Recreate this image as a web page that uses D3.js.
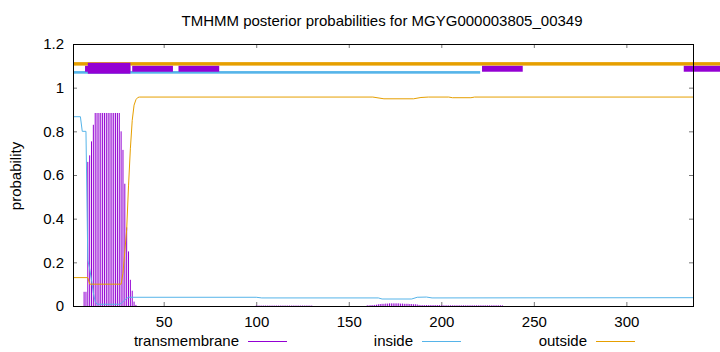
<!DOCTYPE html>
<html>
<head>
<meta charset="utf-8">
<script src="https://cdn.jsdelivr.net/npm/d3@7"></script>
<style>
    body { margin: 0; background: #fff; }
    svg { display: block; font-family: "Liberation Sans", Arial, sans-serif; }
</style>
</head>
<body>
<div id="chart"></div>
<script>

// Sequence length and axis ticks
var seqLength = 336;
var xTicks = [50, 100, 150, 200, 250, 300];
var yTicks = [0, 0.2, 0.4, 0.6, 0.8, 1, 1.2];
var yTickLabels = ["0", "0.2", "0.4", "0.6", "0.8", "1", "1.2"];

// Transmembrane posterior, one impulse per residue [residue, probability]
var tmMain = [
    [7, 0.065], [8, 0.065], [9, 0.66], [10, 0.69], [11, 0.754], [12, 0.83],
    [13, 0.884], [14, 0.884], [15, 0.884], [16, 0.884], [17, 0.884], [18, 0.884],
    [19, 0.884], [20, 0.884], [21, 0.884], [22, 0.884], [23, 0.884], [24, 0.884],
    [25, 0.884], [26, 0.884], [27, 0.80], [28, 0.715], [29, 0.56], [30, 0.36],
    [31, 0.25], [32, 0.12], [33, 0.07], [34, 0.02], [35, 0.005]
];

// Faint transmembrane values further down the sequence
var tmFaintStartA = 100;
var tmFaintA = [0.002, 0.002, 0.002, 0.002, 0.002, 0.002, 0.002, 0.002, 0.002, 0.002,
    0.002, 0.002, 0.002, 0.002, 0.002, 0.002, 0.002, 0.002, 0.002, 0.002,
    0.002, 0.002, 0.002, 0.002, 0.002, 0.002, 0.002, 0.002, 0.002, 0.002, 0.002];
var tmFaintStartB = 160;
var tmFaintB = [0.003, 0.003, 0.004, 0.004, 0.005, 0.006,
    0.008, 0.009, 0.010, 0.010, 0.011, 0.011, 0.012, 0.012, 0.012, 0.012, 0.012,
    0.012, 0.011, 0.011, 0.010, 0.010, 0.010, 0.009, 0.009, 0.008, 0.008, 0.007,
    0.005, 0.004, 0.004, 0.004, 0.004, 0.004, 0.004, 0.004, 0.004, 0.004, 0.004, 0.004,
    0.003, 0.003, 0.003, 0.003, 0.003, 0.003, 0.003, 0.003, 0.003, 0.003,
    0.003, 0.003, 0.003, 0.003, 0.003, 0.003, 0.003, 0.003, 0.003, 0.003,
    0.003, 0.003, 0.003, 0.003, 0.003, 0.003, 0.003, 0.003, 0.003, 0.003,
    0.003, 0.003, 0.003, 0.003];

// Inside posterior, read at the breakpoints of the curve [residue, probability]
var insideProb = [
    [1, 0.867], [5, 0.867], [6, 0.80], [8, 0.80], [9, 0.21], [10, 0.17],
    [11, 0.12], [12, 0.06], [13, 0.02], [14, 0.008], [26, 0.008], [27, 0.012],
    [28, 0.02], [29, 0.028], [30, 0.035], [31, 0.04], [100, 0.04], [103, 0.037],
    [166, 0.037], [168, 0.032], [184, 0.032], [187, 0.04], [192, 0.041],
    [195, 0.037], [336, 0.038]
];

// Outside posterior [residue, probability]
var outsideProb = [
    [1, 0.13], [9, 0.13], [10, 0.10], [27, 0.10], [28, 0.15], [29, 0.25],
    [30, 0.35], [31, 0.55], [32, 0.72], [33, 0.85], [34, 0.92], [35, 0.945],
    [36, 0.955], [37, 0.957], [163, 0.957], [169, 0.949], [185, 0.949],
    [189, 0.955], [193, 0.957], [204, 0.957], [206, 0.954], [216, 0.954],
    [218, 0.957], [336, 0.957]
];

// Predicted topology strip at the top [from, to]
var topoOutside = [[1, 360]];
var topoInside = [[1, 221]];
var topoTm = [[7.5, 32], [33, 55], [58, 80], [222, 244], [331, 360]];
var topoTmWide = [[9, 32]];

var legendItems = [
    {name: "transmembrane", color: "#9400d3"},
    {name: "inside", color: "#56b4e9"},
    {name: "outside", color: "#e69f00"}
];

var colTm = "#9400d3", colIn = "#56b4e9", colOut = "#e69f00";

// Layout
var width = 720, height = 352;
var plot = {left: 73, right: 693, top: 44, bottom: 306};

var svg = d3.select("#chart").append("svg")
    .attr("width", width)
    .attr("height", height);

svg.append("rect")
    .attr("width", width)
    .attr("height", height)
    .attr("fill", "#fff");

// Scales
var x = d3.scaleLinear()
    .domain([1, seqLength])
    .range([plot.left, plot.right]);

var y = d3.scaleLinear()
    .domain([0, 1.2])
    .range([plot.bottom, plot.top]);

// Title
svg.append("text")
    .attr("x", 382)
    .attr("y", 26)
    .attr("text-anchor", "middle")
    .style("font-size", "15px")
    .text("TMHMM posterior probabilities for MGYG000003805_00349");

// Y axis label
svg.append("text")
    .attr("transform", "translate(21,176) rotate(-90)")
    .attr("text-anchor", "middle")
    .style("font-size", "15px")
    .text("probability");

// Axes with inward ticks
var xAxis = d3.axisBottom(x)
    .tickValues(xTicks)
    .tickSizeInner(-4)
    .tickSizeOuter(0)
    .tickPadding(10.5);

var gx = svg.append("g")
    .attr("transform", "translate(0," + plot.bottom + ")")
    .call(xAxis);

var yAxis = d3.axisLeft(y)
    .tickValues(yTicks)
    .tickFormat(function(d, i) { return yTickLabels[i]; })
    .tickSizeInner(-4)
    .tickSizeOuter(0)
    .tickPadding(9);

var gy = svg.append("g")
    .attr("transform", "translate(" + plot.left + ",0)")
    .call(yAxis);

// Mirrored ticks on top and right
var gxTop = svg.append("g")
    .attr("transform", "translate(0," + plot.top + ")")
    .call(d3.axisTop(x).tickValues(xTicks).tickSizeInner(-4).tickSizeOuter(0).tickFormat(""));

var gyRight = svg.append("g")
    .attr("transform", "translate(" + plot.right + ",0)")
    .call(d3.axisRight(y).tickValues(yTicks).tickSizeInner(-4).tickSizeOuter(0).tickFormat(""));

[gx, gy, gxTop, gyRight].forEach(function(g) {
    g.select(".domain").remove();
    g.selectAll(".tick line").attr("stroke", "#777");
    g.selectAll(".tick text")
        .attr("fill", "#000")
        .style("font-size", "15px")
        .style("font-family", "'Liberation Sans', Arial, sans-serif");
});

// Transmembrane impulses
var tmAll = tmMain.slice();
tmFaintA.forEach(function(v, i) { tmAll.push([tmFaintStartA + i, v]); });
tmFaintB.forEach(function(v, i) { tmAll.push([tmFaintStartB + i, v]); });

svg.append("g")
    .selectAll("line")
    .data(tmAll)
    .enter().append("line")
    .attr("x1", function(d) { return x(d[0]); })
    .attr("x2", function(d) { return x(d[0]); })
    .attr("y1", y(0))
    .attr("y2", function(d) { return y(d[1]); })
    .attr("stroke", colTm)
    .attr("stroke-width", 1);

// Inside and outside curves
var line = d3.line()
    .x(function(d) { return x(d[0]); })
    .y(function(d) { return y(d[1]); });

svg.append("path")
    .datum(insideProb)
    .attr("d", line)
    .attr("fill", "none")
    .attr("stroke", colIn)
    .attr("stroke-width", 1);

svg.append("path")
    .datum(outsideProb)
    .attr("d", line)
    .attr("fill", "none")
    .attr("stroke", colOut)
    .attr("stroke-width", 1);

// Topology strip
svg.append("g")
    .selectAll("rect")
    .data(topoOutside)
    .enter().append("rect")
    .attr("x", function(d) { return x(d[0]); })
    .attr("width", function(d) { return x(d[1]) - x(d[0]); })
    .attr("y", y(1.117))
    .attr("height", y(1.101) - y(1.117))
    .attr("fill", colOut);

svg.append("g")
    .selectAll("rect")
    .data(topoInside)
    .enter().append("rect")
    .attr("x", function(d) { return x(d[0]); })
    .attr("width", function(d) { return x(d[1]) - x(d[0]); })
    .attr("y", y(1.076))
    .attr("height", y(1.064) - y(1.076))
    .attr("fill", colIn);

svg.append("g")
    .selectAll("rect")
    .data(topoTm)
    .enter().append("rect")
    .attr("x", function(d) { return x(d[0]); })
    .attr("width", function(d) { return x(d[1]) - x(d[0]); })
    .attr("y", y(1.100))
    .attr("height", y(1.073) - y(1.100))
    .attr("fill", colTm);

svg.append("g")
    .selectAll("rect")
    .data(topoTmWide)
    .enter().append("rect")
    .attr("x", function(d) { return x(d[0]); })
    .attr("width", function(d) { return x(d[1]) - x(d[0]); })
    .attr("y", y(1.114))
    .attr("height", y(1.064) - y(1.114))
    .attr("fill", colTm);

// Frame
svg.append("rect")
    .attr("x", plot.left + 0.5)
    .attr("y", plot.top + 0.5)
    .attr("width", plot.right - plot.left)
    .attr("height", plot.bottom - plot.top)
    .attr("fill", "none")
    .attr("stroke", "#000")
    .attr("stroke-width", 1);

// Legend
var legendEnds = [239, 413, 587];
var legend = svg.selectAll(".legend")
    .data(legendItems)
    .enter().append("g")
    .attr("class", "legend");

legend.append("text")
    .attr("x", function(d, i) { return legendEnds[i]; })
    .attr("y", 346)
    .attr("text-anchor", "end")
    .style("font-size", "15px")
    .text(function(d) { return d.name; });

legend.append("line")
    .attr("x1", function(d, i) { return legendEnds[i] + 9; })
    .attr("x2", function(d, i) { return legendEnds[i] + 48; })
    .attr("y1", 341.5)
    .attr("y2", 341.5)
    .attr("stroke", function(d) { return d.color; })
    .attr("stroke-width", 1);

</script>
</body>
</html>
